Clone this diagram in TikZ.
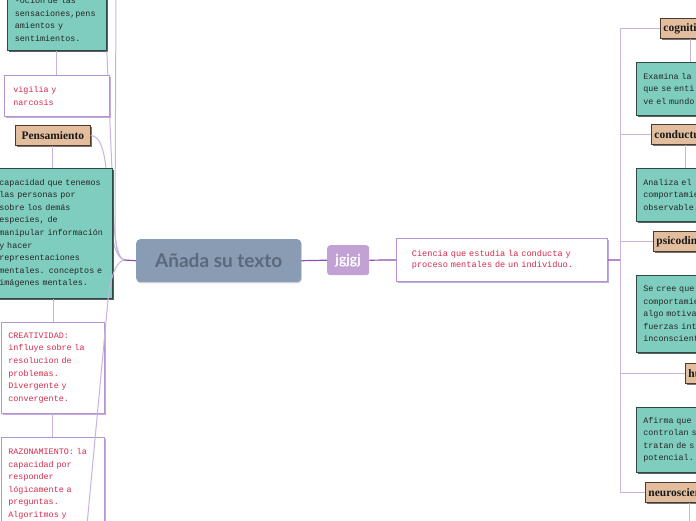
\documentclass[tikz,border=0pt]{standalone}
\usepackage{fontspec}
\setmainfont{Liberation Sans}
\newfontfamily\monof{Liberation Mono}
\newfontfamily\serff{Liberation Serif}
\newfontfamily\latof{Lato}
\usetikzlibrary{shadows}
\definecolor{tealf}{HTML}{7FCDBF}
\definecolor{tealb}{HTML}{2E4A44}
\definecolor{tanf}{HTML}{E3BE9E}
\definecolor{tanb}{HTML}{4D3A2C}
\definecolor{lnk}{HTML}{C9B4DE}
\definecolor{lnkd}{HTML}{8E4DB5}
\definecolor{wbord}{HTML}{B594D2}
\definecolor{redt}{HTML}{D6284C}
\definecolor{cenf}{HTML}{8A9BB4}
\definecolor{cent}{HTML}{5C687B}
\definecolor{jgf}{HTML}{C2A2D4}
\begin{document}
\begin{tikzpicture}[x=1pt,y=-1pt,
 conn/.style={draw=lnk, line width=1pt},
 connd/.style={draw=lnkd, line width=1.2pt},
 tealbox/.style={anchor=north west, fill=tealf, draw=tealb, line width=0.8pt,
   drop shadow={shadow xshift=1.8pt, shadow yshift=-1.8pt, fill=black!70, opacity=0.9},
   font=\monof\fontsize{8.4}{12.6}\selectfont, text=black!85, align=left, inner ysep=0pt},
 whitebox/.style={anchor=north west, fill=white, draw=wbord, line width=0.8pt,
   drop shadow={shadow xshift=1.8pt, shadow yshift=-1.8pt, fill=wbord!80, opacity=1},
   font=\monof\fontsize{8.4}{12.6}\selectfont, text=redt, align=left, inner ysep=0pt},
 tanbox/.style={anchor=north west, fill=tanf, draw=tanb, line width=0.8pt,
   drop shadow={shadow xshift=1.6pt, shadow yshift=-1.6pt, fill=black!60, opacity=0.9},
   font=\serff\bfseries\fontsize{11.5}{12}\selectfont, text=black!90,
   minimum height=20pt, inner ysep=0pt, inner xsep=3pt},
]
\useasboundingbox (0,0) rectangle (696,520);
\fill[white] (0,0) rectangle (696,520);

% hub coordinates
\coordinate (hub) at (124,260);
\coordinate (trk) at (620,260);
\coordinate (topend) at (116,-5);
\coordinate (botend) at (87,525);
\coordinate (xa) at (690,0);
\coordinate (xb) at (685,0);
\coordinate (neuend) at (689,525);

% left-side connectors (behind boxes)
\draw[conn] (hub) .. controls (117,257) and (115,245) .. (115,225) -- (topend);

% nodes left
\node[tealbox, minimum height=62pt, text width=84pt, inner xsep=7.5pt] (t1) at (7,-12)
  {-ocion de las\\sensaciones,pens\\amientos y\\sentimientos.};
\draw[conn] (t1.south east) -- (112,170) .. controls (113,235) and (116,256) .. (hub);
\draw[conn] (t1.south) -- (t1.south |- 0,75);

\node[whitebox, minimum height=41pt, text width=87pt, inner xsep=9pt] (vig) at (4,75)
  {vigilia y\\narcosis};

\node[tanbox, minimum width=75pt, inner xsep=0pt] (pens) at (15,125) {Pensamiento};
\draw[conn] (pens.east) .. controls (100,136) and (104,150) .. (106,168) .. controls (109,230) and (113,256) .. (hub);
\draw[conn] (pens.south) -- (pens.south |- 0,168);

\node[tealbox, minimum height=130pt, text width=108pt, inner xsep=5pt] (t2) at (-6,168)
  {capacidad que tenemos\\las personas por\\sobre los demás\\especies, de\\manipular información\\y hacer\\representaciones\\mentales. conceptos e\\imágenes mentales.};
\draw[conn] (t2.south) -- (t2.south |- 0,322);

\node[whitebox, minimum height=91pt, text width=89pt, inner xsep=7pt] (cre) at (1,322)
  {CREATIVIDAD:\\influye sobre la\\resolucion de\\problemas.\\Divergente y\\convergente.};
\draw[conn] (cre.south) -- (cre.south |- 0,437);

\node[whitebox, minimum height=93pt, text width=89pt, inner xsep=7pt] (raz) at (1,437)
  {RAZONAMIENTO: la\\capacidad por\\responder\\lógicamente a\\preguntas.\\Algoritmos y};

% line in front of boxes
\draw[conn] (hub) .. controls (116,262) and (111,275) .. (108,300) -- (botend);

% center
\node[anchor=north west, fill=cenf, rounded corners=4pt, minimum width=165pt, minimum height=43pt,
  text=cent, font=\latof\bfseries\fontsize{19}{20}\selectfont,
  drop shadow={shadow xshift=0.6pt, shadow yshift=-1.2pt, fill=black!25, opacity=0.6}] (cen) at (136,239) {Añada su texto};
\draw[connd] (cen.west) -- (hub);

\node[anchor=north west, fill=jgf, rounded corners=3pt, minimum width=42pt, minimum height=30pt,
  text=white, font=\latof\bfseries\fontsize{14}{15}\selectfont] (jg) at (327,245) {jgjgj};
\draw[connd] (cen.east) -- (jg.west);

\node[whitebox, minimum height=43pt, text width=180pt, inner xsep=15.5pt,
  font=\monof\fontsize{8.6}{11.5}\selectfont] (cie) at (396,238)
  {Ciencia que estudia la conducta y\\proceso mentales de un individuo.};
\draw[connd] (jg.east) -- (cie.west);

% right side
\node[tanbox] (cog) at (660,18) {cognitiva};
\node[tanbox] (cond) at (651,124) {conductual};
\node[tanbox] (psic) at (653,231) {psicodinámica};
\node[tanbox] (hum) at (685,363) {humanista};
\node[tanbox] (neu) at (645,482) {neurosciencia};
\foreach \n in {cog,cond,psic,hum,neu} {\draw[conn] (\n.west) -| (trk);}
\draw[connd] (cie.east) -- (trk);

\draw[conn] (cog.south -| xa) -- (xa |- 0,62);
\draw[conn] (cond.south -| xb) -- (xb |- 0,168);
\draw[conn] (neu.south -| neuend) -- (neuend);

\node[tealbox, minimum height=53pt, text width=120pt, inner xsep=7pt] (cogd) at (636,62)
  {Examina la\\que se enti\\ve el mundo};
\node[tealbox, minimum height=53pt, text width=120pt, inner xsep=7pt] (condd) at (636,168)
  {Analiza el\\comportamie\\observable.};
\node[tealbox, minimum height=77pt, text width=120pt, inner xsep=7pt] (psicd) at (636,275)
  {Se cree que\\comportamie\\algo motiva\\fuerzas int\\inconscient};
\node[tealbox, minimum height=65pt, text width=120pt, inner xsep=7pt] (humd) at (636,407)
  {Afirma que\\controlan s\\tratan de s\\potencial.};
\end{tikzpicture}
\end{document}
